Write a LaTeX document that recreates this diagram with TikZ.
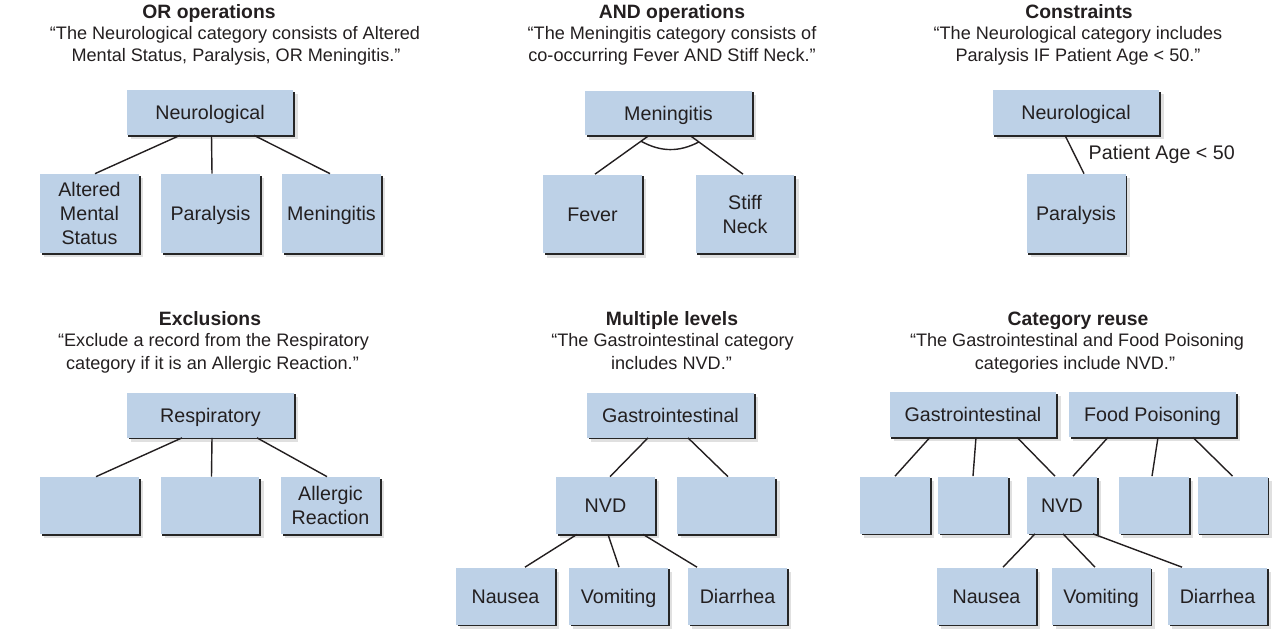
\documentclass[tikz,border=0pt]{standalone}
\usepackage{fontspec}
\setmainfont{Liberation Sans}
\usetikzlibrary{shadows}

\definecolor{boxblue}{RGB}{189,209,231}
\definecolor{ink}{RGB}{35,31,32}

\tikzset{
  cat/.style={fill=boxblue, inner sep=0pt, align=center, text=ink,
    font=\fontsize{11.2}{13.7}\selectfont, text height=8pt, text depth=0pt,
    general shadow={fill=black!12, shadow xshift=2.4pt, shadow yshift=-2.4pt},
    general shadow={fill=black!85, shadow xshift=1.1pt, shadow yshift=-1.1pt}},
  lines/.style={text height=, text depth=},
  wide/.style={cat, minimum width=3.34cm, minimum height=0.9cm},
  tall/.style={cat, minimum width=1.98cm, minimum height=1.58cm},
  short/.style={cat, minimum width=1.98cm, minimum height=1.14cm},
  narrow/.style={cat, minimum width=1.4cm, minimum height=1.14cm},
  head/.style={anchor=base, inner sep=0pt, text=ink, font=\bfseries\fontsize{11}{13}\selectfont},
  quote/.style={anchor=base, inner sep=0pt, text=ink, font=\fontsize{10.3}{12.5}\selectfont},
  cond/.style={inner sep=0pt, text=ink, font=\fontsize{11.2}{13}\selectfont},
  link/.style={draw=ink, line width=0.8pt}
}

\begin{document}
\begin{tikzpicture}[x=0.02cm, y=-0.02cm]
    \useasboundingbox (0,0) rectangle (1275,629);

    % OR operations
    \node[head]  (orhead) at (209,18) {OR operations};
    \node[quote] (orq1) at (235,39) {“The Neurological category consists of Altered};
    \node[quote] (orq2) at (236,61) {Mental Status, Paralysis, OR Meningitis.”};
    \node[wide] (neuroA) at (210,112.5) {Neurological};
    \node[tall, lines] (ams)  at (89.5,213.5) {Altered\\Mental\\Status};
    \node[tall] (para) at (210.5,213.5) {Paralysis};
    \node[tall] (menA) at (331.5,213.5) {Meningitis};
    \draw[link] ([xshift=-0.6cm]neuroA.south) -- ([xshift=0.11cm]ams.north);
    \draw[link] ([xshift=0.03cm]neuroA.south) -- ([xshift=0.03cm]para.north);
    \draw[link] ([xshift=0.88cm]neuroA.south) -- ([xshift=-0.03cm]menA.north);

    % AND operations
    \node[head]  (andhead) at (672,18) {AND operations};
    \node[quote] (andq1) at (672,39) {“The Meningitis category consists of};
    \node[quote] (andq2) at (672,61) {co-occurring Fever AND Stiff Neck.”};
    \node[wide] (menB) at (668.5,113) {Meningitis};
    \node[tall] (fever) at (592.5,214) {Fever};
    \node[tall, lines] (stiff) at (745,214) {Stiff\\Neck};
    \draw[link] ([xshift=-0.4cm]menB.south) -- coordinate[pos=0.14] (andL) ([xshift=0.05cm]fever.north);
    \draw[link] ([xshift=0.44cm]menB.south) -- coordinate[pos=0.16] (andR) ([xshift=-0.04cm]stiff.north);
    \draw[link] (andL) to[bend right=28] (andR);

    % Constraints
    \node[head]  (conhead) at (1079,18) {Constraints};
    \node[quote] (conq1) at (1078,39) {“The Neurological category includes};
    \node[quote] (conq2) at (1078,61) {Paralysis IF Patient Age < 50.”};
    \node[wide] (neuroC) at (1076,112.5) {Neurological};
    \node[tall] (paraC) at (1076,213.5) {Paralysis};
    \draw[link] ([xshift=-0.22cm]neuroC.south) -- node[cond, midway, right=7.7pt] (agecond) {Patient Age < 50} ([xshift=0.16cm]paraC.north);

    % Exclusions
    \node[head]  (exhead) at (210,325) {Exclusions};
    \node[quote] (exq1) at (213.5,346) {“Exclude a record from the Respiratory};
    \node[quote] (exq2) at (212.5,369) {category if it is an Allergic Reaction.”};
    \node[wide] (resp) at (210.5,415) {Respiratory};
    \node[short] (exA) at (89.5,505.5) {};
    \node[short] (exB) at (210,505.5) {};
    \node[short, lines] (allergic) at (330.5,505.5) {Allergic\\Reaction};
    \draw[link] ([xshift=-0.57cm]resp.south) -- ([xshift=0.13cm]exA.north);
    \draw[link] ([xshift=0.03cm]resp.south) -- ([xshift=0.03cm]exB.north);
    \draw[link] ([xshift=0.93cm]resp.south) -- ([xshift=-0.07cm]allergic.north);

    % Multiple levels
    \node[head]  (mlhead) at (672,325) {Multiple levels};
    \node[quote] (mlq1) at (672.5,346) {“The Gastrointestinal category};
    \node[quote] (mlq2) at (671.5,369) {includes NVD.”};
    \node[wide] (giB) at (670.5,415) {Gastrointestinal};
    \node[short] (nvdB) at (605.5,505.5) {NVD};
    \node[short] (mlB) at (726,505.5) {};
    \node[short] (nausB) at (505.5,596) {Nausea};
    \node[short] (vomB) at (618.5,596) {Vomiting};
    \node[short] (diaB) at (737.5,596) {Diarrhea};
    \draw[link] ([xshift=-0.45cm]giB.south) -- ([xshift=0.09cm]nvdB.north);
    \draw[link] ([xshift=0.35cm]giB.south) -- ([xshift=0.04cm]mlB.north);
    \draw[link] ([xshift=-0.57cm]nvdB.south) -- ([xshift=0.39cm]nausB.north);
    \draw[link] ([xshift=0.05cm]nvdB.south) -- ([xshift=0.01cm]vomB.north);
    \draw[link] ([xshift=0.75cm]nvdB.south) -- ([xshift=-0.81cm]diaB.north);

    % Category reuse
    \node[head]  (cruhead) at (1078,325) {Category reuse};
    \node[quote] (cruq1) at (1077,346) {“The Gastrointestinal and Food Poisoning};
    \node[quote] (cruq2) at (1075,369) {categories include NVD.”};
    \node[wide] (giC) at (973,414.5) {Gastrointestinal};
    \node[wide] (fpC) at (1152.5,414.5) {Food Poisoning};
    \node[narrow] (cruA) at (895,505) {};
    \node[narrow] (cruB) at (973,505) {};
    \node[narrow] (nvdC) at (1062,505) {NVD};
    \node[narrow] (cruC) at (1154,505) {};
    \node[narrow] (cruD) at (1232.5,505) {};
    \node[short] (nausC) at (986.5,596) {Nausea};
    \node[short] (vomC) at (1101,596) {Vomiting};
    \node[short] (diaC) at (1217.5,596) {Diarrhea};
    \draw[link] ([xshift=-0.86cm]giC.south) -- (cruA.north);
    \draw[link] ([xshift=0.06cm]giC.south) -- (cruB.north);
    \draw[link] ([xshift=0.88cm]giC.south) -- ([xshift=-0.14cm]nvdC.north);
    \draw[link] ([xshift=-0.89cm]fpC.south) -- ([xshift=0.22cm]nvdC.north);
    \draw[link] ([xshift=0.11cm]fpC.south) -- ([xshift=-0.04cm]cruC.north);
    \draw[link] ([xshift=0.81cm]fpC.south) -- (cruD.north);
    \draw[link] ([xshift=-0.54cm]nvdC.south) -- ([xshift=0.33cm]nausC.north);
    \draw[link] ([xshift=0.02cm]nvdC.south) -- ([xshift=-0.12cm]vomC.north);
    \draw[link] ([xshift=0.62cm]nvdC.south) -- ([xshift=-0.71cm]diaC.north);
\end{tikzpicture}
\end{document}
